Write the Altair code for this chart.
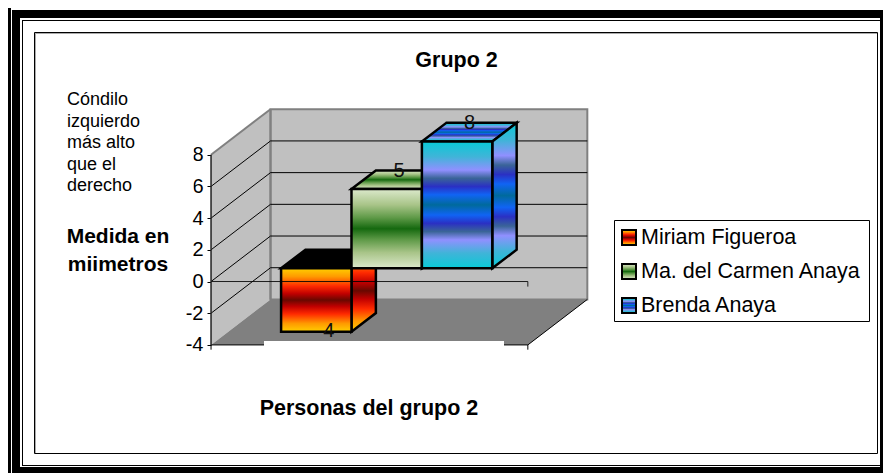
import altair as alt
import pandas as pd

# ---- chart values ----
people = ["Miriam Figueroa", "Ma. del Carmen Anaya", "Brenda Anaya"]
values = [-4, 5, 8]
value_labels = ["4", "5", "8"]
axis_ticks = [-4, -2, 0, 2, 4, 6, 8]
grid_levels = [-2, 0, 2, 4, 6]
title_text = "Grupo 2"
x_title_text = "Personas del grupo 2"
y_title_lines = ["Medida en", "miimetros"]
note_lines = ["Cóndilo", "izquierdo", "más alto", "que el", "derecho"]

FONT = "Liberation Sans"
DX, DY = 0.845, 2.87        # how far the depth axis shifts a point (in x units, in value units)
GAP = 0.75                  # gap beside the bars, in bar widths
D_FRONT, D_BACK = 0.29, 0.70


def grad(colors):
    stops = [{"offset": o, "color": c} for o, c in colors]
    return {"gradient": "linear", "x1": 0, "y1": 0, "x2": 0, "y2": 1, "stops": stops}


def mirror(half):
    return half + [(1 - o, c) for o, c in reversed(half[:-1])]


fire = grad(mirror([(0, "#ffd000"), (0.13, "#ff9a00"), (0.28, "#ff2a00"), (0.4, "#c00000"), (0.5, "#680800")]))
meadow = grad(mirror([(0, "#dce9cc"), (0.2, "#a8c488"), (0.36, "#5f9a48"), (0.5, "#15690f")]))
peacock = grad(mirror([(0, "#08cad6"), (0.12, "#40b4d8"), (0.225, "#9090ff"), (0.29, "#3a6498"),
                       (0.355, "#2a30c4"), (0.42, "#1064f4"), (0.5, "#006a9c")]))
fills = [fire, meadow, peacock]
top_fills = ["#000000", meadow, peacock]

xs = alt.Scale(domain=[-2.884, 9.545], range=[0, 875], zero=False, nice=False)
ys = alt.Scale(domain=[-12.08, 17.256], range=[465, 0], zero=False, nice=False)
value_axis = alt.Axis(
    values=axis_ticks, orient="left", offset=-203, domain=False, grid=False, title=None,
    tickSize=4, tickColor="#000000", tickWidth=1, labelFont=FONT, labelFontSize=20, labelColor="#000000",
    labelPadding=4, labelOverlap=False, labelFlush=False, labelExpr="toString(datum.value)", zindex=0)
X = alt.X("x:Q", scale=xs, axis=None)
X2 = alt.X2("x2:Q")
Y = alt.Y("y:Q", scale=ys, axis=value_axis)
Y2 = alt.Y2("y2:Q")
ONE = alt.Data(values=[{"a": 1}])


def P(u, v, d):
    return u + d * DX, v + d * DY


def box(x0, y0, x1, y1, **kw):
    return alt.Chart(ONE).mark_rect(**kw).encode(
        x=alt.value(x0 - 8), x2=alt.value(x1 - 8), y=alt.value(y0 - 8), y2=alt.value(y1 - 8))


def label(text, x, y, size, weight="normal", align="left"):
    return alt.Chart(alt.Data(values=[{"t": text}])).mark_text(
        font=FONT, fontSize=size, fontWeight=weight, align=align, baseline="alphabetic", color="#000000"
    ).encode(text="t:N", x=alt.value(x - 8), y=alt.value(y - 8))


def segs(rows, **kw):
    df = pd.DataFrame(rows, columns=["x", "y", "x2", "y2"])
    return alt.Chart(df).mark_rule(**kw).encode(x=X, y=Y, x2=X2, y2=Y2)


def front_rect(u0, u1, v0, v1, d, **kw):
    x0, y0 = P(u0, v0, d)
    x1, y1 = P(u1, v1, d)
    df = pd.DataFrame([{"x": x0, "x2": x1, "y": y0, "y2": y1}])
    return alt.Chart(df).mark_rect(**kw).encode(x=X, x2=X2, y=Y, y2=Y2)


def side_face(u, v0, v1, d0, d1, **kw):
    a, b = P(u, v0, d0), P(u, v1, d0)
    c, e = P(u, v0, d1), P(u, v1, d1)
    df = pd.DataFrame([{"x": a[0], "y": a[1], "y2": b[1]}, {"x": c[0], "y": c[1], "y2": e[1]}])
    return alt.Chart(df).mark_area(**kw).encode(x=X, y=Y, y2=Y2)


def flat_face(u0, u1, v, d0, d1, **kw):
    a, b = P(u0, v, d0), P(u1, v, d0)
    c, e = P(u0, v, d1), P(u1, v, d1)
    df = pd.DataFrame([{"y": a[1], "x": a[0], "x2": b[0]}, {"y": c[1], "x": c[0], "x2": e[0]}])
    return alt.Chart(df).mark_area(orient="horizontal", **kw).encode(x=X, x2=X2, y=Y)


U_END = 2 * GAP + len(values)
V_MIN, V_MAX = axis_ticks[0], axis_ticks[-1]
layers = []

# page frame (the drawing area stops at x=883)
for b in [(8, 8, 11, 473), (12, 10, 20, 473), (12, 10, 883, 18), (880, 10, 883, 473), (12, 467, 883, 473),
          (22, 20, 23, 466), (22, 20, 880, 21), (22, 465, 880, 466)]:
    layers.append(box(*b, fill="#000000"))
layers.append(box(34.5, 32.5, 877.5, 453.5, fillOpacity=0, stroke="#000000", strokeWidth=1))
layers.append(box(35, 33, 36, 453, fill="#aaaaaa"))
layers.append(box(35, 33, 877, 34, fill="#aaaaaa"))

# walls and floor
layers.append(side_face(0, V_MIN, V_MAX, 0, 1, fill="#c0c0c0"))
layers.append(front_rect(0, U_END, V_MIN, V_MAX, 1, fill="#c0c0c0", stroke="#808080", strokeWidth=2))
layers.append(flat_face(0, U_END, V_MIN, 0, 1, fill="#808080"))
layers.append(segs([(*P(0, V_MAX, 0), *P(0, V_MAX, 1))], color="#808080", strokeWidth=2))
layers.append(segs([(*P(0, V_MIN, 1), *P(0, V_MAX, 1))], color="#808080", strokeWidth=2))

# grid on the walls
grid_rows = []
for v in grid_levels:
    grid_rows.append((*P(0, v, 0), *P(0, v, 1)))
    grid_rows.append((*P(0, v, 1), *P(U_END, v, 1)))
layers.append(segs(grid_rows, color="#000000", strokeWidth=1))
layers.append(segs([(*P(U_END, V_MIN, 0), *P(U_END, V_MIN, 1))], color="#000000", strokeWidth=1))

# bars
edge = dict(stroke="#000000", strokeWidth=2.5)
for i, v in enumerate(values):
    u0, u1 = GAP + i, GAP + i + 1
    layers.append(flat_face(u0, u1, max(v, 0), D_FRONT, D_BACK, fill=top_fills[i], **edge))
    layers.append(side_face(u1, 0, v, D_FRONT, D_BACK, fill=fills[i], **edge))
    layers.append(front_rect(u0, u1, 0, v, D_FRONT, fill=fills[i], **edge))

# zero line and base line with their end ticks
layers.append(segs([(0, 0, U_END, 0), (U_END, 0, U_END, -0.32)], color="#000000", strokeWidth=1, opacity=0.85))
layers.append(segs([(0, V_MIN, U_END, V_MIN), (U_END, V_MIN, U_END, V_MIN - 0.3), (0, V_MIN, 0, V_MIN - 0.3)],
                   color="#000000", strokeWidth=1))
layers.append(box(264, 341, 504, 352, fill="#ffffff"))

# value axis line
axis_df = pd.DataFrame([{"x": 0, "y": V_MIN, "y2": V_MAX}])
layers.append(alt.Chart(axis_df).mark_rule(color="#222222", strokeWidth=1.5).encode(x=X, y=Y, y2=Y2))
layers.append(box(180, 140, 193.5, 195, fill="#ffffff"))

# value labels
lab_df = pd.DataFrame([
    {"x": P(GAP + i + 0.5, 0, 0.5)[0],
     "y": P(0, v + (0.55 if v > 0 else -0.55), 0.5)[1],
     "t": value_labels[i]}
    for i, v in enumerate(values)])
layers.append(alt.Chart(lab_df).mark_text(font=FONT, fontSize=20, baseline="middle", color="#111111").encode(
    x=X, y=Y, text="t:N"))

# titles
layers.append(label(title_text, 456.5, 67, 21.5, "bold", "center"))
layers.append(label(x_title_text, 369, 415, 21.5, "bold", "center"))
for i, line in enumerate(y_title_lines):
    layers.append(label(line, 118, 243 + 28 * i, 21, "bold", "center"))
for i, line in enumerate(note_lines):
    layers.append(label(line, 67, 105 + 21.5 * i, 18))

# legend
layers.append(box(614.5, 220.5, 869.5, 321.5, fillOpacity=0, stroke="#000000", strokeWidth=1))
for i, name in enumerate(people):
    y0 = 230 + 34 * i
    layers.append(box(622, y0, 636, y0 + 15, fill=fills[i], stroke="#000000", strokeWidth=2))
    layers.append(label(name, 641, 244 + 34 * i, 21.5))

chart = alt.layer(*layers).properties(
    width=875, height=465, padding=0,
    autosize=alt.AutoSizeParams(type="none", contains="padding"),
    background="#ffffff",
).configure_view(stroke=None)

chart.save("out.html", embed_options={"renderer": "svg", "actions": False})
